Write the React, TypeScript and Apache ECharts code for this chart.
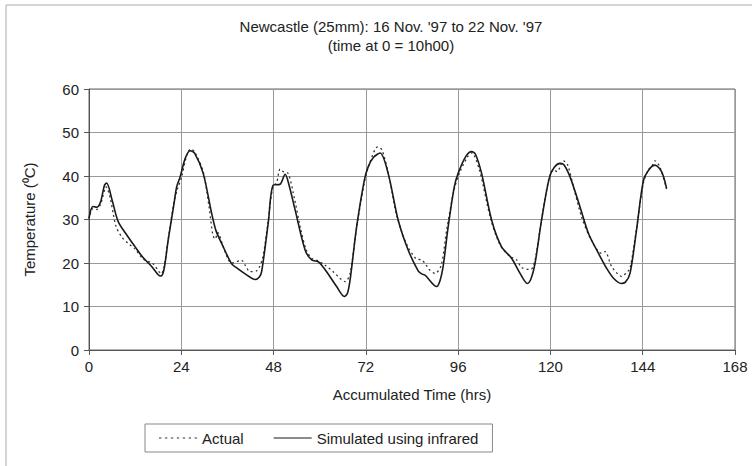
import React, { useEffect, useRef } from "react";
import * as echarts from "echarts";

const titleLines = ["Newcastle (25mm): 16 Nov. '97 to 22 Nov. '97", "(time at 0 = 10h00)"];
const xTicks = [0, 24, 48, 72, 96, 120, 144, 168];
const yTicks = [0, 10, 20, 30, 40, 50, 60];

const actualHours = [0, 1, 2, 3, 4.5, 5.5, 7, 8.5, 10.2, 12, 14, 16.7, 18.2, 18.8, 19.5, 20.6, 22, 23, 24, 25.5, 26.5, 27.5, 29.7, 31.2, 32.2, 32.8, 33.5, 35, 37.1, 39.7, 40.6, 41.9, 43.6, 45.1, 46.5, 47.8, 48.8, 49.7, 50.5, 51.8, 53.5, 55, 56.5, 57.9, 59.5, 61.4, 63.5, 65.5, 66.6, 67.9, 69.5, 71.6, 73, 75.1, 76.2, 78, 80, 82.5, 85, 86.5, 87.3, 88.5, 90, 91.6, 93, 95, 96.5, 98.5, 99.5, 101.5, 104.5, 107, 109.5, 111.2, 112.5, 114.7, 115.3, 116.2, 117.7, 119.5, 120.8, 121.7, 123.4, 124.5, 126, 128.1, 130.5, 133.3, 134.2, 135.9, 137.5, 138.5, 139.8, 140.7, 142.4, 144.2, 145.5, 146.3, 147.2, 148.5, 150.2];
const actualTemps = [30.0, 32.5, 32.3, 33.5, 37.5, 35, 28.5, 26, 24.5, 23.2, 21, 19.8, 18, 17.5, 19, 25.5, 33.5, 37, 39.5, 45, 46.2, 45.5, 41, 33, 26.5, 25.5, 27, 23.5, 20, 20.6, 19.5, 18, 18.2, 21, 29, 37.5, 38.5, 41.6, 41, 40.6, 34.5, 28, 23, 21.1, 20.5, 19.5, 18, 16.3, 15.7, 17.6, 27.5, 38.5, 43, 46.7, 46, 40, 31, 24.5, 21, 20.7, 20, 18.5, 17.6, 19.5, 27.5, 37, 41, 44.5, 45.3, 41.5, 30, 24, 21.5, 20.7, 19, 18.5, 18.8, 21.5, 30, 39, 41.5, 41, 43.5, 42.5, 37.5, 30.6, 25.5, 22.2, 22.6, 19.2, 17.5, 16.9, 17.8, 18.8, 28, 38.5, 41.5, 42, 43.5, 42, 37];

const simHours = [0, 1, 2, 3, 4, 4.6, 6, 7.6, 10, 12, 14, 16.3, 18, 18.7, 19.5, 20.6, 22, 22.8, 23.7, 25, 26.3, 27.5, 29.7, 31.9, 33, 34.5, 37.1, 38.5, 40.6, 43.2, 44.3, 44.9, 46.6, 47.9, 49.7, 51, 52, 53.6, 56.2, 57.9, 59.6, 60.5, 61.8, 64.4, 66.4, 67.2, 67.9, 69.6, 71.6, 72.6, 74, 75.7, 77.8, 80.4, 83, 85.6, 86.5, 87.4, 90.4, 91.3, 92.1, 93.4, 95, 96, 98, 99.5, 100.5, 102.1, 104.7, 107.3, 109.9, 112.1, 114, 115, 116, 117.7, 119.7, 121, 122.5, 123.5, 125.1, 127.7, 129.9, 132.5, 134.6, 136.4, 138.4, 139.5, 140.7, 142.4, 144.2, 145.9, 147.2, 148.9, 150.2];
const simTemps = [30.3, 33.0, 32.8, 34.0, 37.8, 38.4, 34.5, 29.5, 26.2, 23.7, 21.3, 19.2, 17.3, 17.0, 18.5, 25.3, 33, 37.5, 39.8, 44, 45.8, 45.2, 40.6, 31.4, 27.5, 24.5, 19.8, 18.8, 17.5, 16.2, 16.8, 18, 29.1, 37.9, 38.1, 40.4, 38, 32.2, 23, 20.7, 20.3, 19.5, 18, 14.6, 12.3, 13, 16.1, 28.3, 39, 42.1, 44.3, 45.3, 40.6, 29.9, 23, 18.2, 17.5, 17.2, 14.6, 16, 19.2, 28.3, 37.5, 40.6, 44.5, 45.6, 45, 40.6, 29.9, 23.7, 21.1, 17.6, 15.3, 16.5, 19.9, 29.9, 39.5, 42, 42.9, 42.6, 39.8, 32.9, 26.8, 22.2, 18.8, 16.5, 15.3, 15.6, 17.6, 27.6, 39, 41.8, 42.5, 41, 37.2];

const FONT = "'Liberation Sans', Arial, sans-serif";
const DOTTED_ICON = "path://M0,0 L2,0 L2,1 L0,1 Z M5,0 L7,0 L7,1 L5,1 Z M10,0 L12,0 L12,1 L10,1 Z M15,0 L17,0 L17,1 L15,1 Z M20,0 L22,0 L22,1 L20,1 Z M25,0 L27,0 L27,1 L25,1 Z M30,0 L32,0 L32,1 L30,1 Z";
const SOLID_ICON = "path://M0,0 L32,0 L32,1 L0,1 Z";

export default function App() {
  const ref = useRef<HTMLDivElement>(null);
  useEffect(() => {
    if (!ref.current) return;
    const chart = echarts.init(ref.current, undefined, { renderer: "svg" });
    const actual = actualHours.map((h, i) => [h, actualTemps[i]]);
    const sim = simHours.map((h, i) => [h, simTemps[i]]);
    chart.setOption({
      animation: false,
      backgroundColor: "#ffffff",
      textStyle: { fontFamily: FONT },
      title: {
        text: titleLines.join("\n"),
        left: 386,
        top: 12,
        textAlign: "center",
        textStyle: { fontSize: 15, fontWeight: "normal", color: "#222", lineHeight: 19, fontFamily: FONT },
      },
      graphic: [
        {
          type: "rect",
          shape: { x: 6, y: 5, width: 800, height: 500 },
          style: { fill: "none", stroke: "#aaa", lineWidth: 1 },
          silent: true,
        },
      ],
      legend: {
        left: 145,
        top: 424,
        orient: "horizontal",
        padding: [6, 14, 6, 14],
        itemGap: 30,
        itemWidth: 38,
        itemHeight: 1.4,
        borderColor: "#888",
        borderWidth: 1,
        textStyle: { fontSize: 15, color: "#222", fontFamily: FONT, lineHeight: 16 },
        data: [
          { name: "Actual", icon: DOTTED_ICON, itemStyle: { color: "#333", borderWidth: 0 } },
          { name: "Simulated using infrared", icon: SOLID_ICON, itemStyle: { color: "#1a1a1a", borderWidth: 0 } },
        ],
      },
      grid: {
        left: 89,
        right: 17,
        top: 89,
        bottom: 116,
        show: true,
        borderColor: "#666",
        borderWidth: 1,
      },
      xAxis: {
        type: "value",
        min: 0,
        max: 168,
        interval: 24,
        name: "Accumulated Time (hrs)",
        nameLocation: "middle",
        nameGap: 37,
        nameTextStyle: { fontSize: 15, color: "#222", fontFamily: FONT },
        axisLine: { show: true, lineStyle: { color: "#555" } },
        axisTick: { show: true, length: 5, lineStyle: { color: "#555" } },
        axisLabel: { fontSize: 15, color: "#222", margin: 9, fontFamily: FONT, formatter: (v: number) => (xTicks.includes(v) ? String(v) : "") },
        splitLine: { show: true, lineStyle: { color: "#999", width: 1 } },
      },
      yAxis: {
        type: "value",
        min: 0,
        max: 60,
        interval: 10,
        name: "Temperature (⁰C)",
        nameLocation: "middle",
        nameGap: 52,
        nameTextStyle: { fontSize: 15, color: "#222", fontFamily: FONT },
        axisLine: { show: true, lineStyle: { color: "#555" } },
        axisTick: { show: true, length: 5, lineStyle: { color: "#555" } },
        axisLabel: { fontSize: 15, color: "#222", margin: 10, fontFamily: FONT, formatter: (v: number) => (yTicks.includes(v) ? String(v) : "") },
        splitLine: { show: true, lineStyle: { color: "#999", width: 1 } },
      },
      series: [
        {
          name: "Actual",
          type: "line",
          data: actual,
          showSymbol: false,
          symbol: "none",
          smooth: 0.3,
          lineStyle: { color: "#333", width: 1.3, type: [2, 3] },
          itemStyle: { color: "#333" },
          z: 3,
        },
        {
          name: "Simulated using infrared",
          type: "line",
          data: sim,
          showSymbol: false,
          symbol: "none",
          smooth: 0.3,
          lineStyle: { color: "#1a1a1a", width: 1.6 },
          itemStyle: { color: "#1a1a1a" },
          z: 4,
        },
      ],
    });
    return () => chart.dispose();
  }, []);
  return <div ref={ref} style={{ position: "fixed", left: 0, top: 0, width: 752, height: 466 }} />;
}
